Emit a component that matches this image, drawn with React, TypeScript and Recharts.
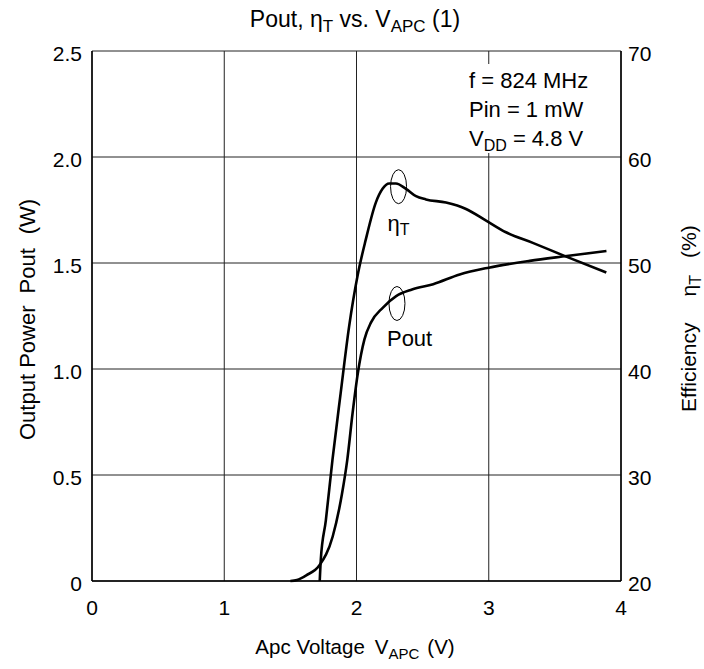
import React from 'react';
import {
  LineChart, Line, XAxis, YAxis, CartesianGrid, ReferenceDot, Customized
} from 'recharts';

// Apc voltage (V) vs output power (W)
const poutVolt = [1.5, 1.55, 1.62, 1.72, 1.82, 1.89, 1.93, 1.97, 2.01, 2.06, 2.11, 2.2, 2.3, 2.42, 2.58, 2.78, 3.0, 3.31, 3.59, 3.89];
const poutWatt = [0, 0.005, 0.027, 0.074, 0.21, 0.41, 0.57, 0.79, 0.98, 1.14, 1.22, 1.29, 1.344, 1.375, 1.4, 1.446, 1.478, 1.51, 1.533, 1.557];

// Apc voltage (V) vs efficiency (%)
const etaVolt = [1.722, 1.73, 1.768, 1.818, 1.88, 1.944, 2.008, 2.07, 2.146, 2.197, 2.247, 2.298, 2.374, 2.45, 2.525, 2.677, 2.828, 2.98, 3.13, 3.333, 3.586, 3.889];
const etaPct = [20, 22, 25.7, 31.4, 37.7, 44.0, 48.8, 52.2, 55.7, 57.0, 57.5, 57.5, 57.0, 56.3, 56.0, 55.7, 55.1, 54.0, 52.9, 51.9, 50.6, 49.1];

const xTicks = [0, 1, 2, 3, 4];
const powerTicks = [0, 0.5, 1.0, 1.5, 2.0, 2.5];
const effTicks = [20, 30, 40, 50, 60, 70];

const conditions = ['f = 824 MHz', 'Pin = 1 mW', ' = 4.8 V'];

const poutData = poutVolt.map((v, i) => ({ v, pout: poutWatt[i] }));
const etaData = etaVolt.map((v, i) => ({ v, eta: etaPct[i] }));

const FONT = '"Liberation Sans", Arial, sans-serif';
const tickStyle = { fill: '#000', fontSize: 21, fontFamily: FONT };

function Extras() {
  return (
    <g fontFamily={FONT} fill="#000">
      {/* title */}
      <text x={355} y={27} fontSize={23} textAnchor="middle">
        Pout, η<tspan fontSize={17} dy={5}>T</tspan><tspan dy={-5}> vs. V</tspan>
        <tspan fontSize={17} dy={5}>APC</tspan><tspan dy={-5}> (1)</tspan>
      </text>
      {/* x axis title */}
      <text x={355} y={654} fontSize={20.5} textAnchor="middle">
        Apc Voltage<tspan dx={10}>V</tspan><tspan fontSize={15} dy={5}>APC</tspan>
        <tspan dy={-5} dx={8}>(V)</tspan>
      </text>
      {/* left axis title */}
      <text transform="translate(35,440) rotate(-90)" fontSize={22}>
        Output Power<tspan dx={12}>Pout</tspan><tspan dx={14}>(W)</tspan>
      </text>
      {/* right axis title */}
      <text transform="translate(696,412) rotate(-90)" fontSize={21}>
        Efficiency<tspan dx={26}>η</tspan><tspan fontSize={16} dy={5}>T</tspan>
        <tspan dy={-5} dx={17}>(%)</tspan>
      </text>
      {/* conditions box */}
      <rect x={458} y={64} width={146} height={89} fill="#fff" />
      <g fontSize={22}>
        <text x={469} y={88}>{conditions[0]}</text>
        <text x={469} y={117}>{conditions[1]}</text>
        <text x={469} y={146}>
          V<tspan fontSize={16} dy={5}>DD</tspan><tspan dy={-5}>{conditions[2]}</tspan>
        </text>
      </g>
    </g>
  );
}

const loop = (label: string, dx: number, dy: number) => (props: any) => (
  <g>
    <ellipse cx={props.cx} cy={props.cy} rx={8} ry={17} fill="none" stroke="#000" strokeWidth={1} />
    <text x={props.cx + dx} y={props.cy + dy} fontSize={22} fontFamily={FONT} fill="#000">
      {label === 'eta' ? (
        <>η<tspan fontSize={16} dy={4}>T</tspan></>
      ) : 'Pout'}
    </text>
  </g>
);

export default function App() {
  return (
    <div style={{ position: 'absolute', left: 0, top: 0, width: 704, height: 669, background: '#fff' }}>
      <LineChart width={704} height={669} margin={{ top: 51, right: 23, bottom: 48, left: 32 }}>
        <CartesianGrid yAxisId="p" stroke="#222" strokeWidth={1} />
        <XAxis
          dataKey="v" type="number" domain={[0, 4]} ticks={xTicks} height={40}
          tickLine={false} tickSize={0} tickMargin={19} axisLine={{ stroke: '#000', strokeWidth: 1.5 }}
          tick={tickStyle} allowDuplicatedCategory={false}
        />
        <YAxis
          yAxisId="p" domain={[0, 2.5]} ticks={powerTicks} width={60}
          tickLine={false} tickSize={0} tickMargin={10} axisLine={{ stroke: '#000', strokeWidth: 1.5 }}
          tick={{ ...tickStyle, dy: 3 }} tickFormatter={(t: number) => (t === 0 ? '0' : t.toFixed(1))}
        />
        <YAxis
          yAxisId="e" orientation="right" domain={[20, 70]} ticks={effTicks} width={60}
          tickLine={false} tickSize={0} tickMargin={7} axisLine={{ stroke: '#000', strokeWidth: 1.5 }}
          tick={{ ...tickStyle, dy: 3 }}
        />
        <Line
          yAxisId="p" data={poutData} dataKey="pout" type="monotone" stroke="#000"
          strokeWidth={2.6} dot={false} isAnimationActive={false}
        />
        <Line
          yAxisId="e" data={etaData} dataKey="eta" type="monotone" stroke="#000"
          strokeWidth={2.6} dot={false} isAnimationActive={false}
        />
        <ReferenceDot yAxisId="e" x={2.318} y={57.2} shape={loop('eta', -11, 44)} />
        <ReferenceDot yAxisId="p" x={2.306} y={1.309} shape={loop('pout', -10, 43)} />
        <Customized component={Extras} />
      </LineChart>
    </div>
  );
}
